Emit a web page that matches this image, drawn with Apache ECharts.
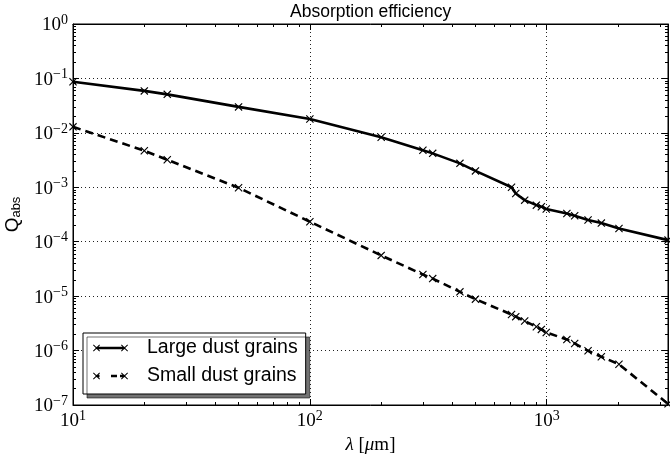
<!DOCTYPE html>
<html>
<head>
<meta charset="utf-8">
<script src="https://cdn.jsdelivr.net/npm/echarts@6/dist/echarts.min.js"></script>
<style>html,body{margin:0;padding:0;background:#fff}#c{width:670px;height:454px}</style>
</head>
<body>
<div id="c"></div>
<script>
// ---- data ----
const wavelength = [10, 20, 25, 50, 100, 200, 300, 330, 430, 500, 710, 740, 807, 904, 949, 995, 1216, 1312, 1494, 1700, 2018, 3250];
const largeGrains = [0.087, 0.059, 0.051, 0.030, 0.018, 0.0083, 0.0048, 0.0042, 0.00275, 0.0020, 0.0010, 0.00077, 0.00058, 0.00047, 0.00044, 0.00040, 0.00033, 0.00030, 0.00025, 0.00022, 0.000175, 0.000107];
const smallGrains = [0.0129, 0.0047, 0.0032, 0.00098, 0.000233, 5.6e-5, 2.5e-5, 2.1e-5, 1.2e-5, 8.8e-6, 4.6e-6, 4.2e-6, 3.5e-6, 2.74e-6, 2.45e-6, 2.15e-6, 1.6e-6, 1.35e-6, 9.9e-7, 7.7e-7, 5.6e-7, 1.05e-7];
const seriesNames = ['Large dust grains', 'Small dust grains'];
const xRange = [10, 3250];
const yRange = [1e-7, 1];
const xMinorTicks = [20,30,40,50,60,70,80,90,200,300,400,500,600,700,800,900,2000,3000];
const yMinorTicks = [];
for (let d = -7; d <= -1; d++) for (let m = 2; m <= 9; m++) yMinorTicks.push(Number((m * Math.pow(10, d)).toPrecision(6)));

// ---- helpers ----
function xPoly(cx, cy, size) {
  const s = size / 10;
  const pts = [[0,1],[1,0],[5,4],[9,0],[10,1],[6,5],[10,9],[9,10],[5,6],[1,10],[0,9],[4,5]];
  return 'M' + pts.map(p => ((cx - size/2) + p[0]*s).toFixed(2) + ',' + ((cy - size/2) + p[1]*s).toFixed(2)).join('L') + 'Z';
}
function rect(x1, y1, x2, y2) { return `M${x1},${y1}L${x2},${y1}L${x2},${y2}L${x1},${y2}Z`; }
const markerPath = 'path://' + xPoly(5, 5, 10);
const iconSolid = 'path://' + xPoly(3.5, 3.5, 7) + xPoly(31.5, 3.5, 7) + rect(3.5, 2.3, 31.5, 4.7);
const iconDashed = 'path://' + xPoly(3.5, 3.5, 7) + xPoly(31.5, 3.5, 7) + rect(3.5, 2.3, 6.5, 4.7) + rect(18, 2.3, 24, 4.7) + rect(27, 2.3, 31.5, 4.7);

function powLabel(v) {
  const e = Math.round(Math.log10(v));
  if (Math.abs(Math.pow(10, e) - v) / v > 1e-6) return '';
  return '{b|10}{e|' + String(e).replace('-', '\u2212') + '}';
}
const serif = 'Liberation Serif';
const labelRich = {
  b: { fontSize: 19, fontFamily: serif, color: '#000', lineHeight: 22, verticalAlign: 'bottom' },
  e: { fontSize: 14, fontFamily: serif, color: '#000', verticalAlign: 'top', lineHeight: 22 }
};
const black = '#000';
const gridLine = { show: true, lineStyle: { color: '#222', width: 1, type: [1, 3] } };

function makeAxis(kind, pos, range, major, minorVals, extra) {
  const a = {
    type: 'log', logBase: 10, min: range[0], max: range[1], position: pos,
    axisLine: { show: true, onZero: false, lineStyle: { color: black, width: 1 } },
    splitLine: { show: false }, minorTick: { show: false }, minorSplitLine: { show: false },
    axisLabel: { show: false }
  };
  if (major) {
    a.axisTick = { show: true, inside: true, length: 6, lineStyle: { color: black, width: 1 } };
  } else {
    a.axisLine.show = false;
    a.axisTick = { show: true, inside: true, length: 3, customValues: minorVals, lineStyle: { color: black, width: 1 } };
  }
  return Object.assign(a, extra || {});
}

const xAxes = [
  makeAxis('x', 'bottom', xRange, true, null, {
    splitLine: gridLine,
    axisLabel: { show: true, formatter: powLabel, rich: labelRich, margin: 4 },
    name: '{i|\u03bb} [{i|\u03bc}{r|m}]', nameLocation: 'middle', nameGap: 21,
    nameTextStyle: { rich: {
      i: { fontSize: 19, fontFamily: serif, fontStyle: 'italic', color: black },
      r: { fontSize: 19, fontFamily: serif, color: black }
    }, fontSize: 19, fontFamily: serif, color: black }
  }),
  makeAxis('x', 'bottom', xRange, false, xMinorTicks),
  makeAxis('x', 'top', xRange, true),
  makeAxis('x', 'top', xRange, false, xMinorTicks)
];
const yAxes = [
  makeAxis('y', 'left', yRange, true, null, {
    splitLine: gridLine,
    axisLabel: { show: true, formatter: powLabel, rich: labelRich, margin: 5 },
    name: 'Q{s|abs}', nameLocation: 'middle', nameGap: 41,
    nameTextStyle: { fontSize: 19, fontFamily: 'Liberation Sans', color: black,
      rich: { s: { fontSize: 13, fontFamily: 'Liberation Sans', color: black, verticalAlign: 'bottom', padding: [8, 0, 0, 0] } } }
  }),
  makeAxis('y', 'left', yRange, false, yMinorTicks),
  makeAxis('y', 'right', yRange, true),
  makeAxis('y', 'right', yRange, false, yMinorTicks)
];

const pairs = vals => wavelength.map((x, i) => [x, vals[i]]);

const option = {
  backgroundColor: '#fff',
  animation: false,
  title: {
    text: 'Absorption efficiency', left: 290, top: 3, padding: 0,
    textStyle: { fontSize: 17.5, fontWeight: 'normal', fontFamily: 'Liberation Sans', color: black }
  },
  grid: { left: 73, right: 2, top: 24, bottom: 49, containLabel: false, outerBoundsMode: 'none',
    show: true, borderColor: black, borderWidth: 1, backgroundColor: 'transparent' },
  legend: {
    orient: 'vertical', left: 83, top: 333,
    data: [{ name: seriesNames[0], icon: iconSolid }, { name: seriesNames[1], icon: iconDashed }],
    itemWidth: 35, itemHeight: 7, itemGap: 8,
    padding: [5, 8, 8, 10],
    backgroundColor: '#fff', borderColor: black, borderWidth: 1, borderRadius: 0,
    shadowColor: 'rgba(0,0,0,0.55)', shadowBlur: 0, shadowOffsetX: 4, shadowOffsetY: 4,
    itemStyle: { color: black, borderWidth: 0 },
    textStyle: { fontSize: 19.5, fontFamily: 'Liberation Sans', color: black, lineHeight: 20, padding: [0, 0, 0, 14] }
  },
  xAxis: xAxes,
  yAxis: yAxes,
  series: [
    {
      name: seriesNames[0], type: 'line', xAxisIndex: 0, yAxisIndex: 0,
      data: pairs(largeGrains), symbol: markerPath, symbolSize: 8, showAllSymbol: true,
      itemStyle: { color: black, borderWidth: 0 },
      lineStyle: { color: black, width: 2.6, type: 'solid' }, z: 3
    },
    {
      name: seriesNames[1], type: 'line', xAxisIndex: 0, yAxisIndex: 0,
      data: pairs(smallGrains), symbol: markerPath, symbolSize: 8, showAllSymbol: true,
      itemStyle: { color: black, borderWidth: 0 },
      lineStyle: { color: black, width: 2.6, type: [8, 5] }, z: 3
    }
  ]
};
const chart = echarts.init(document.getElementById('c'), null, { renderer: 'canvas' });
chart.setOption(option);
</script>
</body>
</html>
